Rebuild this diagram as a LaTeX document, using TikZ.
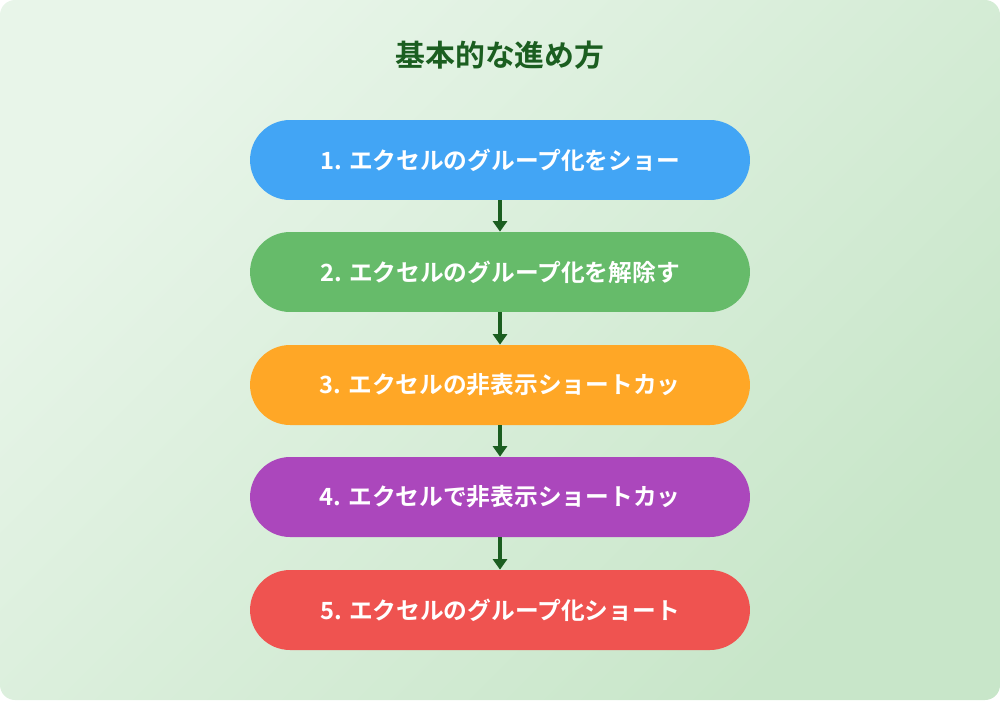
\documentclass[tikz,border=0pt]{standalone}
\usepackage{fontspec}
\newfontfamily\cjk{Noto Sans CJK JP}[BoldFont={Noto Sans CJK JP Bold}]
\usetikzlibrary{arrows.meta}
\definecolor{bgA}{HTML}{E8F5E9}
\definecolor{bgB}{HTML}{C8E6C9}
\definecolor{dg}{HTML}{1B5E20}
\definecolor{c1}{HTML}{42A5F5}
\definecolor{c2}{HTML}{66BB6A}
\definecolor{c3}{HTML}{FFA726}
\definecolor{c4}{HTML}{AB47BC}
\definecolor{c5}{HTML}{EF5350}
\tikzset{
  stepbox/.style={rounded corners=0.8cm, minimum width=10cm, minimum height=1.6cm, inner sep=0pt, text=white, font=\cjk\bfseries\fontsize{13.5}{15}\selectfont},
  conn/.style={draw=dg, line width=1.8pt, -{Triangle[length=6pt,width=8pt]}}
}
\begin{document}
\begin{tikzpicture}[x=0.02cm,y=-0.02cm]
\useasboundingbox (0,0) rectangle (1000,700);
\shade[left color=bgA, right color=bgB, rounded corners=0.3cm, shading angle=45] (0,0) rectangle (1000,700);
\node[font=\cjk\bfseries\fontsize{17}{19}\selectfont, text=dg] (title) at (500,55) {基本的な進め方};
\node[stepbox, fill=c1] (s1) at (500,160) {1. エクセルのグループ化をショー};
\node[stepbox, fill=c2] (s2) at (500,272) {2. エクセルのグループ化を解除す};
\node[stepbox, fill=c3] (s3) at (500,385) {3. エクセルの非表示ショートカッ};
\node[stepbox, fill=c4] (s4) at (500,497) {4. エクセルで非表示ショートカッ};
\node[stepbox, fill=c5] (s5) at (500,610) {5. エクセルのグループ化ショート};
\draw[conn] (s1) -- (s2);
\draw[conn] (s2) -- (s3);
\draw[conn] (s3) -- (s4);
\draw[conn] (s4) -- (s5);
\end{tikzpicture}
\end{document}
